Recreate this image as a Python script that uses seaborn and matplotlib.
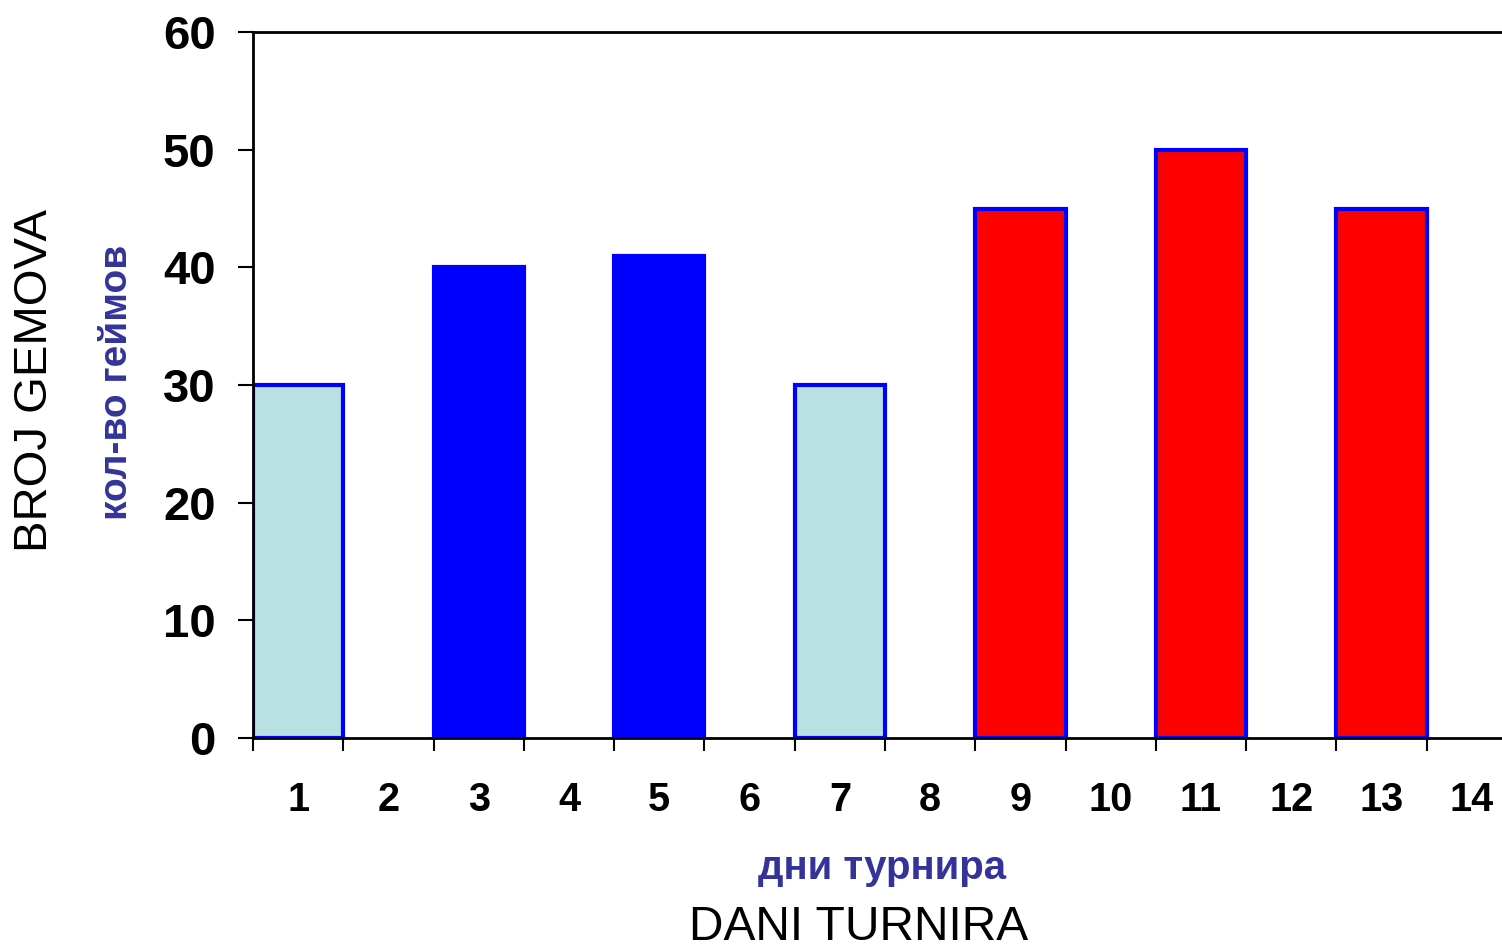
import matplotlib
matplotlib.use("Agg")
import matplotlib.pyplot as plt
import seaborn as sns
import pandas as pd
import numpy as np

# Tournament days and number of games played (only odd days have games)
days = [str(d) for d in range(1, 15)]
played_days = ["1", "3", "5", "7", "9", "11", "13"]
games = [30, 40, 41, 30, 45, 50, 45]
bar_colors = ["#B9E0E3", "#0000FF", "#0000FF", "#B9E0E3", "#FF0000", "#FF0000", "#FF0000"]
y_ticks = [0, 10, 20, 30, 40, 50, 60]

sns.set_style("white")
plt.rcParams["font.family"] = ["Liberation Sans", "DejaVu Sans"]

df = pd.DataFrame({"day": played_days, "games": games})
palette = dict(zip(played_days, bar_colors))

fig = plt.figure(figsize=(15.02, 9.52), dpi=100)
ax = fig.add_axes([253 / 1502, 1 - 738 / 952, 1264 / 1502, (738 - 32) / 952])

sns.barplot(data=df, x="day", y="games", hue="day", order=days,
            hue_order=played_days, palette=palette, width=1.0,
            edgecolor="#0000FF", linewidth=3, saturation=1,
            legend=False, ax=ax)

ax.set_xlim(-0.5, 13.5)
ax.set_ylim(0, 60)
ax.set_yticks(y_ticks)
ax.set_yticklabels([str(v) for v in y_ticks], fontsize=34, fontweight="bold",
                   color="black")
ax.tick_params(axis="y", which="major", direction="out", length=11, width=1.5,
               pad=16, left=True, color="black")

# Category boundaries carry the tick marks, category centres carry the labels
n = len(days)
ax.set_xticks(np.arange(n) - 0.5)
ax.set_xticklabels([])
ax.set_xticks(np.arange(n), minor=True)
ax.set_xticklabels(days, minor=True, fontsize=28.5, fontweight="bold",
                   color="black")
ax.tick_params(axis="x", which="major", direction="out", length=9, width=1.5,
               bottom=True, color="black")
ax.tick_params(axis="x", which="minor", length=0, pad=31)

ax.set_xlabel("")
ax.set_ylabel("")
for side in ["left", "bottom", "top"]:
    ax.spines[side].set_visible(True)
    ax.spines[side].set_color("black")
    ax.spines[side].set_linewidth(2)
ax.spines["right"].set_visible(False)

fig.text(35 / 1502, 1 - 380 / 952, "BROJ GEMOVA", rotation=90, fontsize=34,
         ha="center", va="center", color="black")
fig.text(117 / 1502, 1 - 382 / 952, "кол-во геймов", rotation=90, fontsize=28,
         fontweight="bold", ha="center", va="center", color="#333399")
fig.text(882 / 1502, 1 - 868 / 952, "дни турнира", fontsize=29,
         fontweight="bold", ha="center", va="center", color="#333399")
fig.text(859 / 1502, 1 - 928 / 952, "DANI TURNIRA", fontsize=34.5,
         ha="center", va="center", color="black")

fig.savefig("out.png", dpi=100)
